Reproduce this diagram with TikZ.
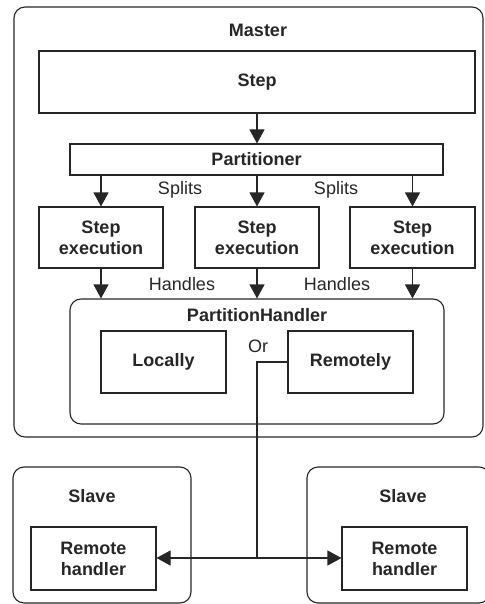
\documentclass[tikz,border=0pt]{standalone}
\usepackage{fontspec}
\setmainfont{Liberation Sans}
\usetikzlibrary{arrows.meta}
\begin{document}
\begin{tikzpicture}[x=1pt,y=-1pt, line width=1.1pt, color={black!85},
 box/.style={draw, rectangle, inner sep=0pt, font=\fontsize{18}{21}\selectfont\bfseries, align=center},
 rbox/.style={draw, rectangle, rounded corners=11pt, inner sep=0pt},
 lbl/.style={inner sep=0pt, font=\fontsize{18}{21}\selectfont\bfseries},
 txt/.style={inner sep=0pt, font=\fontsize{18}{21}\selectfont},
 arr/.style={-{Triangle[length=14pt,width=15pt]}}]
\useasboundingbox (0,0) rectangle (484,604);
% containers
\node[rbox, minimum width=469pt, minimum height=430pt] (master) at (248.5,222) {};
\node[lbl] (masterlbl) at (258,30) {Master};
\node[rbox, minimum width=178pt, minimum height=136pt] (slaveL) at (102,535) {};
\node[rbox, minimum width=183pt, minimum height=136pt] (slaveR) at (398.5,535) {};
\node[lbl] (slaveLlbl) at (92,496) {Slave};
\node[lbl] (slaveRlbl) at (403,496) {Slave};
% boxes
\node[box, minimum width=436pt, minimum height=62pt] (step) at (257,82) {Step};
\node[box, minimum width=373pt, minimum height=31pt] (part) at (256.5,159.5) {Partitioner};
\node[box, minimum width=124pt, minimum height=61pt] (se1) at (101,237.5) {Step\\execution};
\node[box, minimum width=124pt, minimum height=61pt] (se2) at (257,237.5) {Step\\execution};
\node[box, minimum width=125pt, minimum height=61pt] (se3) at (412.5,237.5) {Step\\execution};
\node[rbox, minimum width=374pt, minimum height=125pt] (ph) at (257,361.5) {};
\node[lbl] (phlbl) at (257,315) {PartitionHandler};
\node[box, minimum width=125pt, minimum height=62pt] (loc) at (163.5,362) {Locally};
\node[box, minimum width=125pt, minimum height=62pt] (rem) at (350.5,362) {Remotely};
\node[txt] (or) at (258,346) {Or};
\node[box, minimum width=125pt, minimum height=63pt] (rhL) at (93.5,558.5) {Remote\\handler};
\node[box, minimum width=125pt, minimum height=63pt] (rhR) at (404.5,558.5) {Remote\\handler};
% labels
\node[txt] (sp1) at (180,190) {Splits};
\node[txt] (sp2) at (336,190) {Splits};
\node[txt] (hd1) at (182,284) {Handles};
\node[txt] (hd2) at (337,284) {Handles};
% connectors
\draw[arr] (step.south) -- (step.south |- part.north);
\foreach \s in {se1,se2,se3} {
  \draw[arr] (\s.north |- part.south) -- (\s.north);
  \draw[arr] (\s.south) -- (\s.south |- ph.north);
}
\coordinate (bend) at (257,362);
\coordinate (junc) at (257,558);
\draw (rem.west) -- (bend) -- (junc);
\draw[arr] (junc) -- (rhL.east |- junc);
\draw[arr] (junc) -- (rhR.west |- junc);
\end{tikzpicture}
\end{document}
